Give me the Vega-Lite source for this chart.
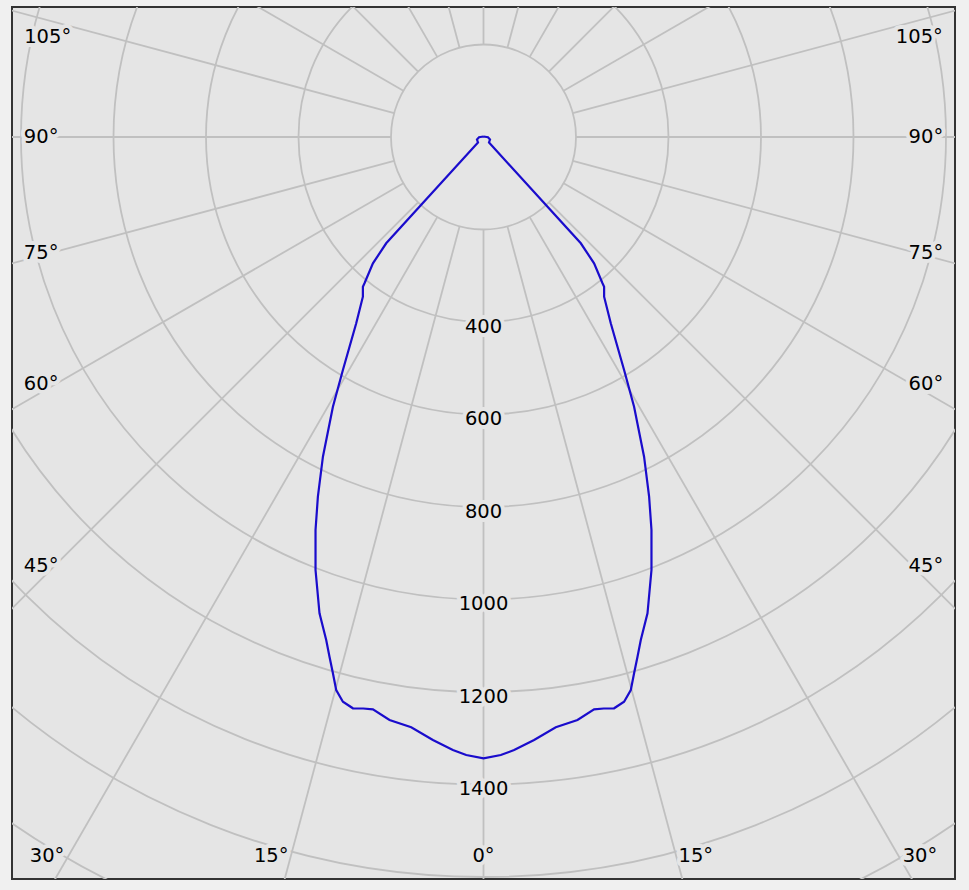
{
  "$schema": "https://vega.github.io/schema/vega-lite/v6.json",
  "width": 943,
  "height": 872,
  "autosize": {"type": "none"},
  "padding": {"left": 12, "top": 7, "right": 14, "bottom": 11},
  "background": "#f0f0f0",
  "config": {"view": {"fill": "#e5e5e5", "stroke": "#333333", "strokeWidth": 2}},
  "datasets": {
    "circles": [{"r": 200}, {"r": 400}, {"r": 600}, {"r": 800}, {"r": 1000}, {"r": 1200}, {"r": 1400}, {"r": 1600}, {"r": 1800}],
    "spokes": [
      {"a": 0, "x": 0, "y": 200, "x2": 0, "y2": 2100},
      {"a": 15, "x": 51.76, "y": 193.19, "x2": 543.52, "y2": 2028.44},
      {"a": 30, "x": 100, "y": 173.21, "x2": 1050, "y2": 1818.65},
      {"a": 45, "x": 141.42, "y": 141.42, "x2": 1484.92, "y2": 1484.92},
      {"a": 60, "x": 173.21, "y": 100, "x2": 1818.65, "y2": 1050},
      {"a": 75, "x": 193.19, "y": 51.76, "x2": 2028.44, "y2": 543.52},
      {"a": 90, "x": 200, "y": 0, "x2": 2100, "y2": 0},
      {"a": 105, "x": 193.19, "y": -51.76, "x2": 2028.44, "y2": -543.52},
      {"a": 120, "x": 173.21, "y": -100, "x2": 1818.65, "y2": -1050},
      {"a": 135, "x": 141.42, "y": -141.42, "x2": 1484.92, "y2": -1484.92},
      {"a": 150, "x": 100, "y": -173.21, "x2": 1050, "y2": -1818.65},
      {"a": 165, "x": 51.76, "y": -193.19, "x2": 543.52, "y2": -2028.44},
      {"a": 180, "x": 0, "y": -200, "x2": 0, "y2": -2100},
      {"a": 195, "x": -51.76, "y": -193.19, "x2": -543.52, "y2": -2028.44},
      {"a": 210, "x": -100, "y": -173.21, "x2": -1050, "y2": -1818.65},
      {"a": 225, "x": -141.42, "y": -141.42, "x2": -1484.92, "y2": -1484.92},
      {"a": 240, "x": -173.21, "y": -100, "x2": -1818.65, "y2": -1050},
      {"a": 255, "x": -193.19, "y": -51.76, "x2": -2028.44, "y2": -543.52},
      {"a": 270, "x": -200, "y": 0, "x2": -2100, "y2": 0},
      {"a": 285, "x": -193.19, "y": 51.76, "x2": -2028.44, "y2": 543.52},
      {"a": 300, "x": -173.21, "y": 100, "x2": -1818.65, "y2": 1050},
      {"a": 315, "x": -141.42, "y": 141.42, "x2": -1484.92, "y2": 1484.92},
      {"a": 330, "x": -100, "y": 173.21, "x2": -1050, "y2": 1818.65},
      {"a": 345, "x": -51.76, "y": 193.19, "x2": -543.52, "y2": 2028.44}
    ],
    "curve": [
      {"i": 0, "x": 0, "y": -1.1},
      {"i": 1, "x": -9.7, "y": 0.4},
      {"i": 2, "x": -14.1, "y": 5.4},
      {"i": 3, "x": -11.9, "y": 11.9},
      {"i": 4, "x": -210.4, "y": 229.8},
      {"i": 5, "x": -239.1, "y": 273.1},
      {"i": 6, "x": -257.3, "y": 316.3},
      {"i": 7, "x": -260.8, "y": 323.7},
      {"i": 8, "x": -260.8, "y": 345.3},
      {"i": 9, "x": -275.2, "y": 402.8},
      {"i": 10, "x": -304.0, "y": 503.8},
      {"i": 11, "x": -325.6, "y": 583.1},
      {"i": 12, "x": -347.2, "y": 691.2},
      {"i": 13, "x": -358.1, "y": 777.7},
      {"i": 14, "x": -363.2, "y": 849.7},
      {"i": 15, "x": -363.2, "y": 936.2},
      {"i": 16, "x": -354.6, "y": 1029.8},
      {"i": 17, "x": -340.1, "y": 1087.6},
      {"i": 18, "x": -333.0, "y": 1123.7},
      {"i": 19, "x": -325.6, "y": 1159.6},
      {"i": 20, "x": -318.5, "y": 1195.7},
      {"i": 21, "x": -304.0, "y": 1221.0},
      {"i": 22, "x": -282.4, "y": 1235.2},
      {"i": 23, "x": -260.1, "y": 1235.7},
      {"i": 24, "x": -239.1, "y": 1237.4},
      {"i": 25, "x": -203.2, "y": 1260.5},
      {"i": 26, "x": -156.3, "y": 1276.3},
      {"i": 27, "x": -109.4, "y": 1303.8},
      {"i": 28, "x": -66.2, "y": 1325.4},
      {"i": 29, "x": -37.4, "y": 1336.2},
      {"i": 30, "x": 0, "y": 1343.4},
      {"i": 31, "x": 37.4, "y": 1336.2},
      {"i": 32, "x": 66.2, "y": 1325.4},
      {"i": 33, "x": 109.4, "y": 1303.8},
      {"i": 34, "x": 156.3, "y": 1276.3},
      {"i": 35, "x": 203.2, "y": 1260.5},
      {"i": 36, "x": 239.1, "y": 1237.4},
      {"i": 37, "x": 260.1, "y": 1235.7},
      {"i": 38, "x": 282.4, "y": 1235.2},
      {"i": 39, "x": 304.0, "y": 1221.0},
      {"i": 40, "x": 318.5, "y": 1195.7},
      {"i": 41, "x": 325.6, "y": 1159.6},
      {"i": 42, "x": 333.0, "y": 1123.7},
      {"i": 43, "x": 340.1, "y": 1087.6},
      {"i": 44, "x": 354.6, "y": 1029.8},
      {"i": 45, "x": 363.2, "y": 936.2},
      {"i": 46, "x": 363.2, "y": 849.7},
      {"i": 47, "x": 358.1, "y": 777.7},
      {"i": 48, "x": 347.2, "y": 691.2},
      {"i": 49, "x": 325.6, "y": 583.1},
      {"i": 50, "x": 304.0, "y": 503.8},
      {"i": 51, "x": 275.2, "y": 402.8},
      {"i": 52, "x": 260.8, "y": 345.3},
      {"i": 53, "x": 260.8, "y": 323.7},
      {"i": 54, "x": 257.3, "y": 316.3},
      {"i": 55, "x": 239.1, "y": 273.1},
      {"i": 56, "x": 210.4, "y": 229.8},
      {"i": 57, "x": 11.9, "y": 11.9},
      {"i": 58, "x": 14.1, "y": 5.4},
      {"i": 59, "x": 9.7, "y": 0.4},
      {"i": 60, "x": 0, "y": -1.1}
    ],
    "labels": [
      {"t": "400", "x": 0, "y": 408.5},
      {"t": "600", "x": 0, "y": 608.5},
      {"t": "800", "x": 0, "y": 808.5},
      {"t": "1000", "x": 0, "y": 1008.5},
      {"t": "1200", "x": 0, "y": 1208.5},
      {"t": "1400", "x": 0, "y": 1408.5},
      {"t": "105°", "x": -942.4, "y": -218.8},
      {"t": "90°", "x": -956.5, "y": -1.7},
      {"t": "75°", "x": -956.5, "y": 248.0},
      {"t": "60°", "x": -956.5, "y": 532.5},
      {"t": "45°", "x": -956.5, "y": 925.4},
      {"t": "30°", "x": -943.8, "y": 1552.4},
      {"t": "15°", "x": -459, "y": 1552.4},
      {"t": "0°", "x": 0, "y": 1552.4},
      {"t": "15°", "x": 459, "y": 1552.4},
      {"t": "30°", "x": 943.8, "y": 1552.4},
      {"t": "105°", "x": 942.4, "y": -218.8},
      {"t": "90°", "x": 956.5, "y": -1.7},
      {"t": "75°", "x": 956.5, "y": 248.0},
      {"t": "60°", "x": 956.5, "y": 532.5},
      {"t": "45°", "x": 956.5, "y": 925.4}
    ]
  },
  "layer": [
    {
      "data": {"name": "circles"},
      "mark": {"type": "point", "shape": "circle", "filled": false, "stroke": "#c0c0c0", "strokeWidth": 1.8, "opacity": 1, "clip": true},
      "encoding": {
        "x": {"datum": 0, "type": "quantitative", "scale": {"domain": [-1019.5, 1019.5], "nice": false, "zero": false}, "axis": null},
        "y": {"datum": 0, "type": "quantitative", "scale": {"domain": [-281.1, 1604.3], "reverse": true, "nice": false, "zero": false}, "axis": null},
        "size": {"field": "r", "type": "quantitative", "scale": {"type": "pow", "exponent": 2, "domain": [0, 2000], "range": [0, 3422500], "zero": true, "nice": false}, "legend": null}
      }
    },
    {
      "data": {"name": "spokes"},
      "mark": {"type": "rule", "stroke": "#c0c0c0", "strokeWidth": 1.8, "clip": true},
      "encoding": {
        "x": {"field": "x", "type": "quantitative", "scale": {"domain": [-1019.5, 1019.5], "nice": false, "zero": false}, "axis": null},
        "y": {"field": "y", "type": "quantitative", "scale": {"domain": [-281.1, 1604.3], "reverse": true, "nice": false, "zero": false}, "axis": null},
        "x2": {"field": "x2"},
        "y2": {"field": "y2"}
      }
    },
    {
      "data": {"name": "labels"},
      "mark": {"type": "text", "font": "DejaVu Sans", "fontSize": 19.5, "align": "center", "baseline": "middle", "dy": 1, "fill": "#e5e5e5", "stroke": "#e5e5e5", "strokeWidth": 8, "strokeJoin": "round"},
      "encoding": {
        "x": {"field": "x", "type": "quantitative", "scale": {"domain": [-1019.5, 1019.5], "nice": false, "zero": false}, "axis": null},
        "y": {"field": "y", "type": "quantitative", "scale": {"domain": [-281.1, 1604.3], "reverse": true, "nice": false, "zero": false}, "axis": null},
        "text": {"field": "t"}
      }
    },
    {
      "data": {"name": "curve"},
      "mark": {"type": "line", "stroke": "#1a0ccc", "strokeWidth": 2.2},
      "encoding": {
        "x": {"field": "x", "type": "quantitative", "scale": {"domain": [-1019.5, 1019.5], "nice": false, "zero": false}, "axis": null},
        "y": {"field": "y", "type": "quantitative", "scale": {"domain": [-281.1, 1604.3], "reverse": true, "nice": false, "zero": false}, "axis": null},
        "order": {"field": "i", "type": "quantitative"}
      }
    },
    {
      "data": {"name": "labels"},
      "mark": {"type": "text", "font": "DejaVu Sans", "fontSize": 19.5, "align": "center", "baseline": "middle", "dy": 1, "fill": "#000000"},
      "encoding": {
        "x": {"field": "x", "type": "quantitative", "scale": {"domain": [-1019.5, 1019.5], "nice": false, "zero": false}, "axis": null},
        "y": {"field": "y", "type": "quantitative", "scale": {"domain": [-281.1, 1604.3], "reverse": true, "nice": false, "zero": false}, "axis": null},
        "text": {"field": "t"}
      }
    }
  ]
}
